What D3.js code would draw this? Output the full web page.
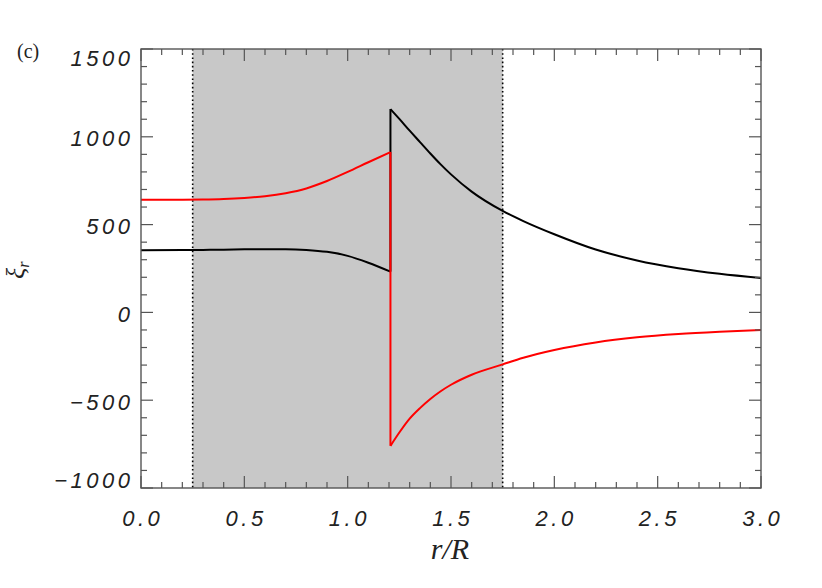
<!DOCTYPE html>
<html>
<head>
<meta charset="utf-8">
<script src="https://cdn.jsdelivr.net/npm/d3@7"></script>
<style>
  html, body { margin: 0; padding: 0; background: #fff; }
  svg { display: block; }
</style>
</head>
<body>
<svg id="chart" width="822" height="588"></svg>
<script>
// ---- data ----
const xTicks = [0.0, 0.5, 1.0, 1.5, 2.0, 2.5, 3.0];
const xTickLabels = ["0.0", "0.5", "1.0", "1.5", "2.0", "2.5", "3.0"];
const yTicks = [-1000, -500, 0, 500, 1000, 1500];
const yTickLabels = ["\u22121000", "\u2212500", "0", "500", "1000", "1500"];
const shadedRegion = [0.25, 1.75];

// inside the jump (r/R < 1.207)
const rInner = [0.0, 0.2, 0.3, 0.4, 0.5, 0.6, 0.7, 0.8, 0.9, 1.0, 1.1, 1.207];
const redInner = [642, 642, 643, 646, 652, 662, 679, 706, 748, 800, 855, 913];
const blackInner = [354, 355, 356, 357, 359, 360, 360, 356, 345, 322, 283, 232];

// outside the jump (r/R >= 1.207)
const rOuter = [1.207, 1.25, 1.3, 1.35, 1.4, 1.45, 1.5, 1.6, 1.75, 1.85, 2.0, 2.2, 2.4, 2.6, 2.8, 3.0];
const redOuter = [-760, -684, -605, -545, -493, -449, -412, -355, -296, -258, -214, -171, -142, -123, -110, -100];
const blackOuter = [1158, 1102, 1035, 970, 905, 843, 786, 688, 578, 520, 445, 358, 296, 252, 220, 196];

// ---- layout ----
const svg = d3.select("#chart");
const L = 141, R = 761, T = 49, B = 488;
const x = d3.scaleLinear().domain([0, 3]).range([L, R]);
const y = d3.scaleLinear().domain([-1000, 1500]).range([B, T]);

// clip
svg.append("defs").append("clipPath").attr("id", "clip")
  .append("rect").attr("x", L).attr("y", T).attr("width", R - L).attr("height", B - T);

// shaded region
svg.append("rect")
  .attr("x", x(shadedRegion[0])).attr("y", T)
  .attr("width", x(shadedRegion[1]) - x(shadedRegion[0])).attr("height", B - T)
  .attr("fill", "#c8c8c8");

// dotted boundary lines
shadedRegion.forEach(v => {
  svg.append("line")
    .attr("x1", x(v)).attr("x2", x(v)).attr("y1", T).attr("y2", B)
    .attr("stroke", "#000").attr("stroke-width", 1.6)
    .attr("stroke-dasharray", "1.6,2.6");
});

// curves
const plot = svg.append("g").attr("clip-path", "url(#clip)");
const line = d3.line().x(d => x(d[0])).y(d => y(d[1])).curve(d3.curveMonotoneX);
const lin = d3.line().x(d => x(d[0])).y(d => y(d[1]));

function drawSeries(inner, outer, color) {
  const a = rInner.map((r, i) => [r, inner[i]]);
  const b = rOuter.map((r, i) => [r, outer[i]]);
  const style = s => s.attr("fill", "none").attr("stroke", color)
    .attr("stroke-width", 2).attr("stroke-linejoin", "round");
  plot.append("path").attr("d", line(a)).call(style);
  plot.append("path").attr("d", lin([a[a.length - 1], b[0]])).call(style);
  plot.append("path").attr("d", line(b)).call(style);
}
drawSeries(blackInner, blackOuter, "#000");
drawSeries(redInner, redOuter, "#ff0000");

// frame and ticks
const axisColor = "#555";
const ticks = svg.append("g").attr("stroke", axisColor).attr("stroke-width", 1.2);
const xMinor = d3.range(0, 3.0001, 0.1);
xMinor.forEach(v => {
  const major = Math.abs(v * 2 - Math.round(v * 2)) < 1e-6;
  const len = major ? 12 : 6;
  ticks.append("line").attr("x1", x(v)).attr("x2", x(v)).attr("y1", B).attr("y2", B - len);
  ticks.append("line").attr("x1", x(v)).attr("x2", x(v)).attr("y1", T).attr("y2", T + len);
});
const yMinor = d3.range(-1000, 1500.1, 100);
yMinor.forEach(v => {
  const major = v % 500 === 0;
  const len = major ? 12 : 6;
  ticks.append("line").attr("x1", L).attr("x2", L + len).attr("y1", y(v)).attr("y2", y(v));
  ticks.append("line").attr("x1", R).attr("x2", R - len).attr("y1", y(v)).attr("y2", y(v));
});
svg.append("rect").attr("x", L).attr("y", T).attr("width", R - L).attr("height", B - T)
  .attr("fill", "none").attr("stroke", axisColor).attr("stroke-width", 1.4);

// tick labels
const ls = 3.5;
const tickFont = s => s.attr("font-family", "'Liberation Sans', Arial, sans-serif")
  .attr("font-style", "italic").attr("font-size", 22).attr("fill", "#222")
  .attr("letter-spacing", ls);

xTicks.forEach((v, i) => {
  svg.append("text").attr("x", x(v) + ls / 2).attr("y", 526)
    .attr("text-anchor", "middle").text(xTickLabels[i]).call(tickFont);
});
yTicks.forEach((v, i) => {
  let dy = 9.5;
  if (v === 1500) dy = 17;
  if (v === -1000) dy = 0;
  svg.append("text").attr("x", 130 + ls).attr("y", y(v) + dy)
    .attr("text-anchor", "end").text(yTickLabels[i]).call(tickFont);
});

// axis titles
svg.append("text").attr("x", 450).attr("y", 559).attr("text-anchor", "middle")
  .attr("font-family", "'Liberation Serif', 'DejaVu Serif', serif")
  .attr("font-style", "italic").attr("font-size", 30).attr("fill", "#222")
  .text("r/R");

const yl = svg.append("text")
  .attr("transform", "translate(24,279) rotate(-90)")
  .attr("font-family", "'Liberation Serif', 'DejaVu Serif', serif")
  .attr("font-style", "italic").attr("fill", "#222");
yl.append("tspan").attr("font-size", 26).text("ξ");
yl.append("tspan").attr("font-size", 16).attr("dy", 5).text("r");

svg.append("text").attr("x", 17).attr("y", 58)
  .attr("font-family", "'Liberation Serif', 'DejaVu Serif', serif")
  .attr("font-size", 20).attr("fill", "#222").text("(c)");
</script>
</body>
</html>
